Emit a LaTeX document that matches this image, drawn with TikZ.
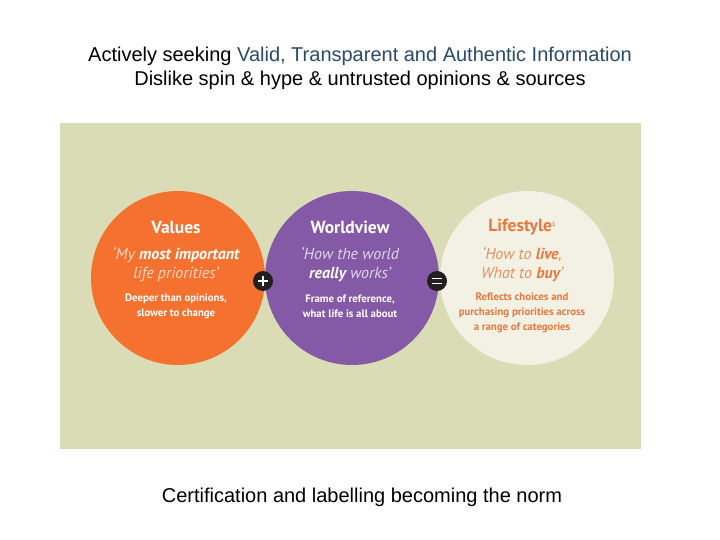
\documentclass[tikz,border=0pt]{standalone}
\usepackage{fontspec}
\setmainfont{Liberation Sans}
\newfontfamily\pts{PT Sans}
\definecolor{panelbg}{HTML}{D9DCB4}
\definecolor{orng}{HTML}{F47130}
\definecolor{purp}{HTML}{8459A6}
\definecolor{creamc}{HTML}{F3F1E4}
\definecolor{badgec}{HTML}{231F20}
\definecolor{titleblue}{HTML}{2B4A6A}
\definecolor{lsorange}{HTML}{E8783E}
\tikzset{
  bubble/.style={circle, minimum size=174pt, inner sep=0pt, draw=none},
  headtxt/.style={font=\pts\bfseries\fontsize{17.5}{20}\selectfont, inner sep=0pt},
  quotetxt/.style={font=\pts\itshape\fontsize{16}{18.5}\selectfont, align=center, inner sep=0pt},
  smalltxt/.style={font=\pts\bfseries\fontsize{10.8}{15}\selectfont, align=center, inner sep=0pt},
  badge/.style={circle, fill=badgec, minimum size=20pt, inner sep=0pt},
  sign/.style={white, line width=1.8pt},
  slidetxt/.style={font=\fontsize{20}{22}\selectfont, inner sep=0pt}
}
\begin{document}
\begin{tikzpicture}[x=1pt, y=-1pt]
\useasboundingbox (0,0) rectangle (720,540);
\fill[white] (0,0) rectangle (720,540);
\node[slidetxt] (t1) at (360,56) {Actively seeking \textcolor{titleblue}{Valid, Transparent and Authentic Information}};
\node[slidetxt] (t2) at (360,80) {Dislike spin \& hype \& untrusted opinions \& sources};
\fill[panelbg] (60,123) rectangle (641,449);
\node[bubble, fill=orng] (values) at (178,278) {};
\node[bubble, fill=purp] (world) at (352,278) {};
\node[bubble, fill=creamc] (life) at (527,278) {};
% Values
\node[headtxt, text=white] (vh) at (176,227) {Values};
\node[quotetxt, text=white!72!orng] (vq) at (176,264.5) {‘My \textcolor{white}{\bfseries most important}\\life priorities’};
\node[smalltxt, text=white] (vs) at (176,306) {Deeper than opinions,\\slower to change};
% Worldview
\node[headtxt, text=white] (wh) at (350,227) {Worldview};
\node[quotetxt, text=white!75!purp] (wq) at (350,264.5) {‘How the world\\\textcolor{white}{\bfseries really} works’};
\node[smalltxt, text=white] (ws) at (350,306) {Frame of reference,\\what life is all about};
% Lifestyle
\node[headtxt, text=lsorange] (lh) at (522,227) {Lifestyle\raisebox{0.6ex}{\fontsize{6}{6}\selectfont 1}};
\node[quotetxt, text=lsorange!80!creamc] (lq) at (522,264.5) {‘How to \textcolor{lsorange}{\bfseries live},\\What to \textcolor{lsorange}{\bfseries buy}’};
\node[smalltxt, text=lsorange] (ls) at (522,313) {Reflects choices and\\purchasing priorities across\\a range of categories};
% badges
\node[badge] (plus) at (263,281) {};
\draw[sign] ([xshift=-5pt]plus.center) -- ([xshift=5pt]plus.center);
\draw[sign] ([yshift=-5pt]plus.center) -- ([yshift=5pt]plus.center);
\node[badge] (eq) at (437,281) {};
\draw[sign, line width=1.6pt] ([xshift=-5pt,yshift=-2.5pt]eq.center) -- ([xshift=5pt,yshift=-2.5pt]eq.center);
\draw[sign, line width=1.6pt] ([xshift=-5pt,yshift=2.5pt]eq.center) -- ([xshift=5pt,yshift=2.5pt]eq.center);
\node[slidetxt] (t3) at (362,497) {Certification and labelling becoming the norm};
\end{tikzpicture}
\end{document}
